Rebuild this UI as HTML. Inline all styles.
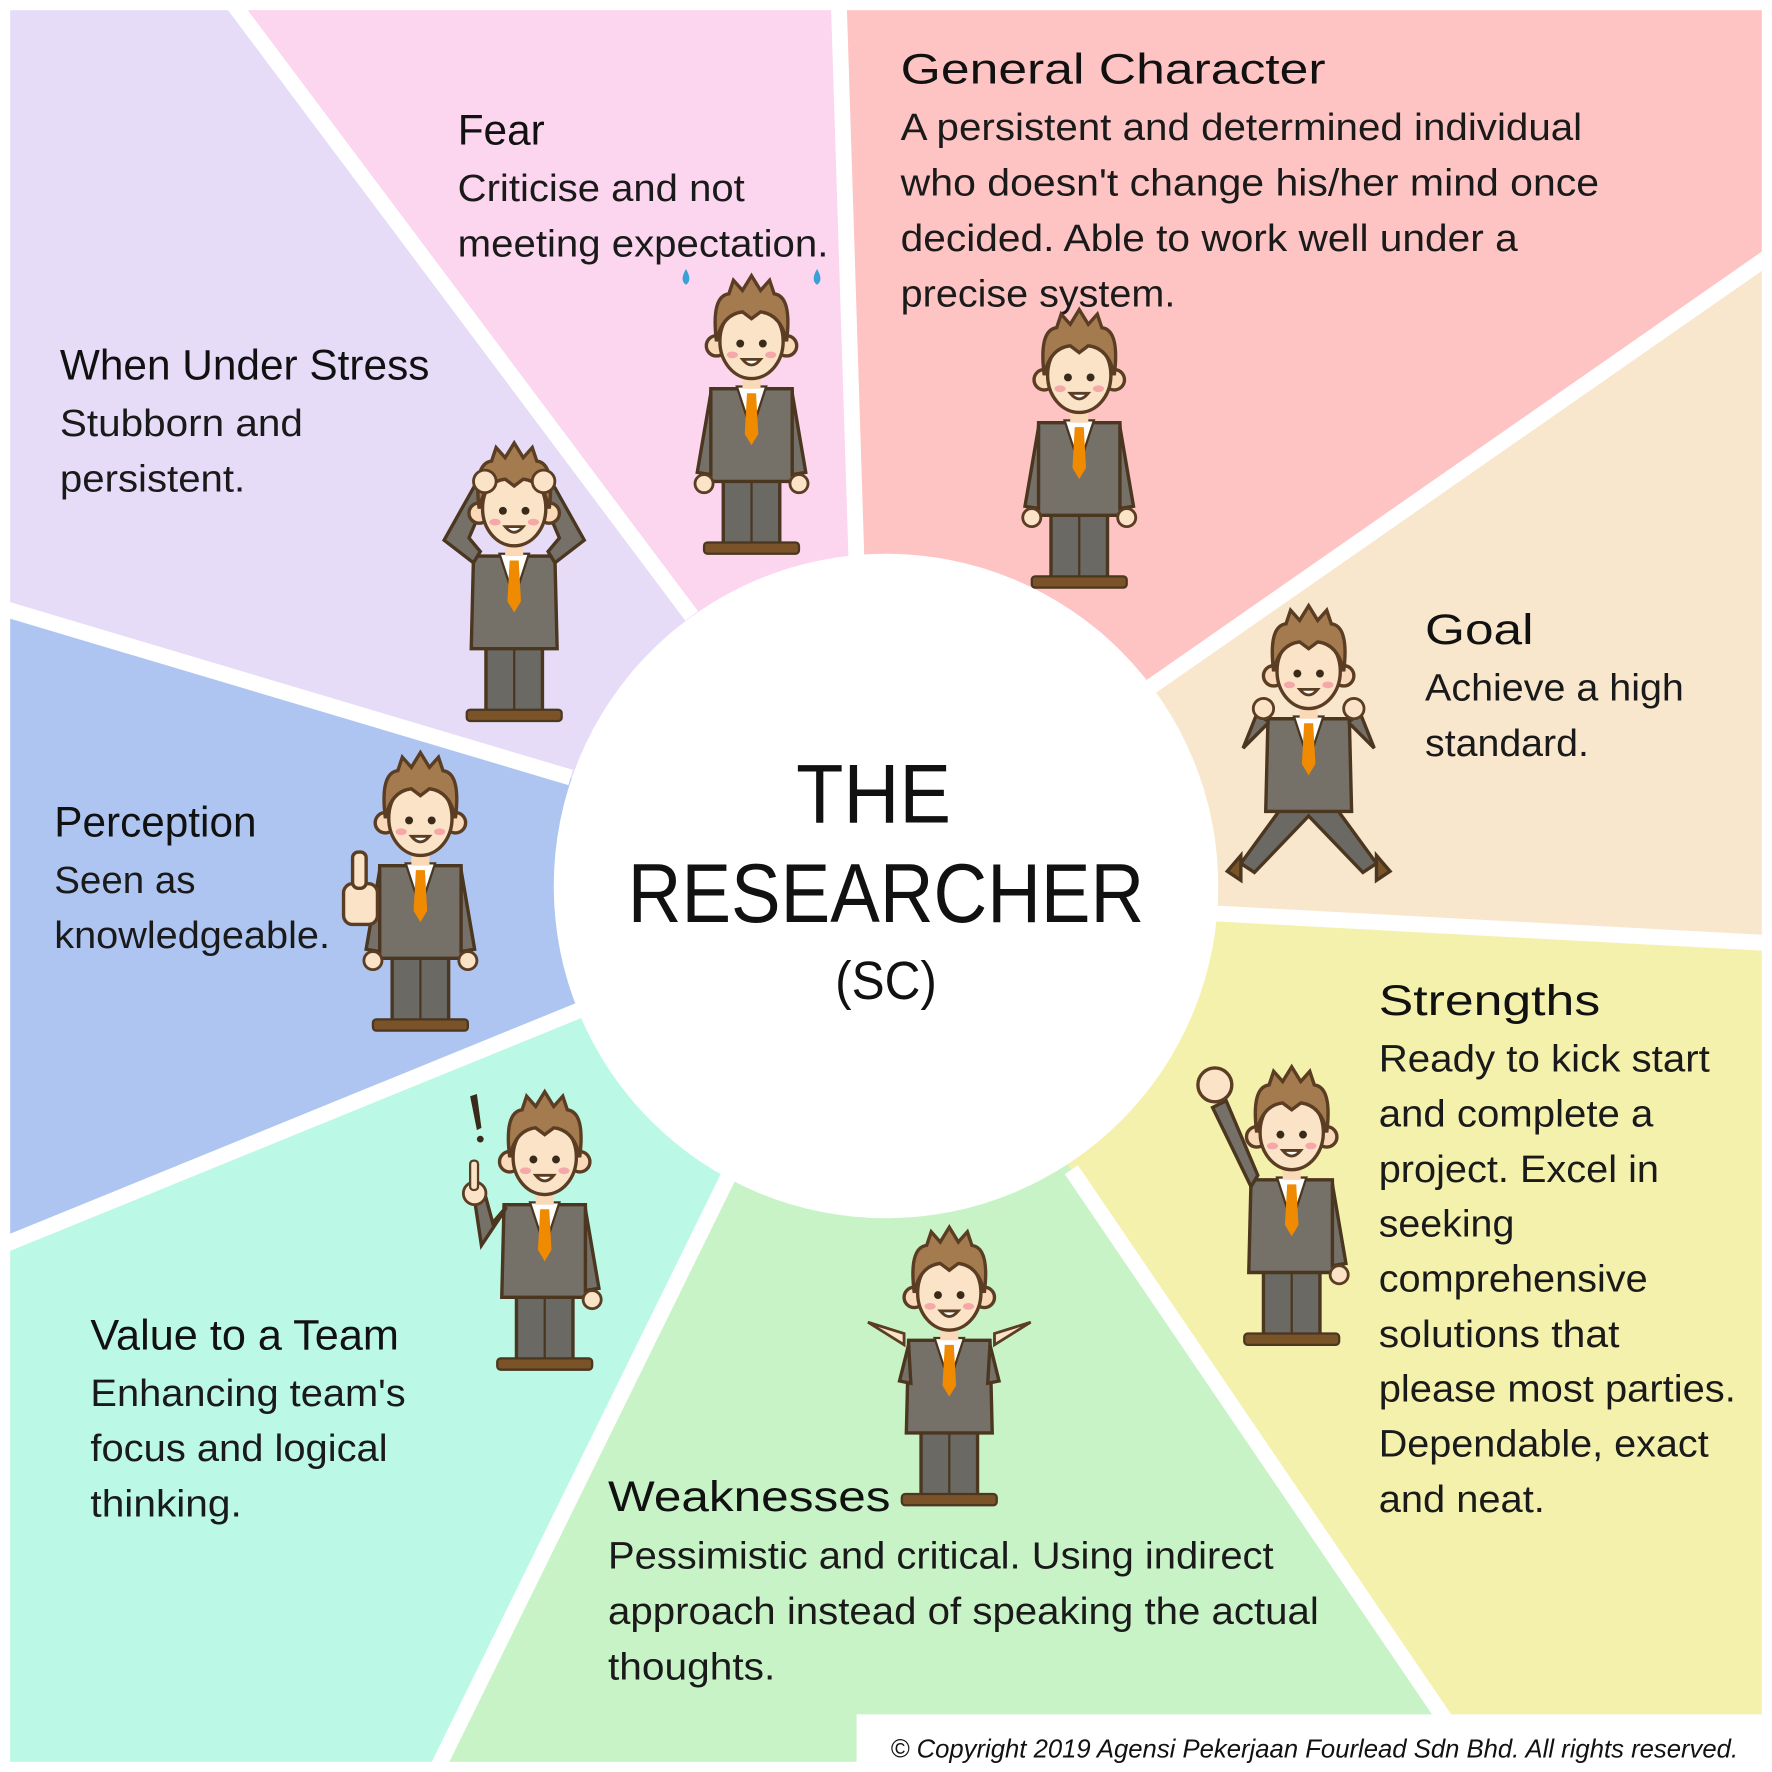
<!DOCTYPE html>
<html><head><meta charset="utf-8"><style>
html,body{margin:0;padding:0;background:#fff}
svg{display:block}
text{font-family:"Liberation Sans",sans-serif;fill:#111}
.h{font-size:38px}
.b{font-size:34px;fill:#1a1a1a}
</style></head><body>
<svg width="1772" height="1772" viewBox="0 0 1568 1568" xmlns="http://www.w3.org/2000/svg">
<defs>
<g id="head">
 <circle cx="-31" cy="6" r="9" fill="#f9d9b8" stroke="#5a3d22" stroke-width="3"/>
 <circle cx="31" cy="6" r="9" fill="#f9d9b8" stroke="#5a3d22" stroke-width="3"/>
 <rect x="-8" y="28" width="16" height="16" fill="#f9d9b8"/>
 <ellipse cx="0" cy="2" rx="28" ry="33" fill="#fbe3c8" stroke="#5a3d22" stroke-width="3"/>
 <path d="M-31,2 Q-36,-38 -20,-40 L-16,-52 L-8,-43 L0,-56 L8,-43 L16,-52 L20,-40 Q36,-38 31,2 Q26,-22 8,-24 L0,-18 L-8,-24 Q-26,-22 -31,2Z" fill="#a47b4f" stroke="#5a3d22" stroke-width="3"/>
 <circle cx="-10" cy="4" r="3.5" fill="#3a2a1a"/><circle cx="10" cy="4" r="3.5" fill="#3a2a1a"/>
 <ellipse cx="-17" cy="14" rx="5" ry="3" fill="#f6a8a8"/><ellipse cx="17" cy="14" rx="5" ry="3" fill="#f6a8a8"/>
 <path d="M-8,18 Q0,28 8,18Z" fill="#fff" stroke="#5a3d22" stroke-width="2.5"/>
</g>
<g id="torso">
 <rect x="-25" y="120" width="50" height="62" fill="#6b6964" stroke="#4b3620" stroke-width="3"/>
 <line x1="0" y1="125" x2="0" y2="182" stroke="#4b3620" stroke-width="2"/>
 <rect x="-42" y="180" width="84" height="10" rx="3" fill="#7a5328" stroke="#4b3620" stroke-width="2"/>
 <path d="M-36,44 L36,44 L38,126 L-38,126Z" fill="#757169" stroke="#4b3620" stroke-width="3"/>
 <path d="M-13,42 L13,42 L0,82Z" fill="#fff" stroke="#4b3620" stroke-width="2"/>
 <path d="M-4,48 L4,48 L6,84 L0,94 L-6,84Z" fill="#f08a00"/>
</g>
<g id="armsdown">
 <path d="M-36,48 L-48,118 L-36,120Z" fill="#757169" stroke="#4b3620" stroke-width="3"/>
 <path d="M36,48 L48,118 L36,120Z" fill="#757169" stroke="#4b3620" stroke-width="3"/>
 <circle cx="-42" cy="128" r="8" fill="#fbe3c8" stroke="#5a3d22" stroke-width="2.5"/>
 <circle cx="42" cy="128" r="8" fill="#fbe3c8" stroke="#5a3d22" stroke-width="2.5"/>
</g>
</defs>

<rect width="1568" height="1568" fill="#fff"/>
<!-- wedges -->
<polygon points="612,545 205,0 742,0 758,500 784,784" fill="#fcd5ee"/>
<polygon points="758,500 742,0 1568,0 1568,225 1015,610 784,784" fill="#fdc4c3"/>
<polygon points="1015,610 1568,225 1568,835 1070,808 784,784" fill="#f8e7cd"/>
<polygon points="1070,808 1568,835 1568,1568 1311,1568 948,1035 784,784" fill="#f4f1ad"/>
<polygon points="948,1035 1311,1568 385,1568 645,1040 784,784" fill="#c8f3c7"/>
<polygon points="645,1040 385,1568 0,1568 0,1103 515,893 784,784" fill="#bbf9e6"/>
<polygon points="515,893 0,1103 0,538 505,688 784,784" fill="#aec5f1"/>
<polygon points="505,688 0,538 0,0 205,0 612,545 784,784" fill="#e6dcf8"/>
<!-- separators -->
<g stroke="#fff" stroke-width="14">
<line x1="742" y1="-5" x2="758" y2="500"/>
<line x1="1575" y1="220" x2="1015" y2="610"/>
<line x1="1575" y1="835" x2="1070" y2="808"/>
<line x1="1315" y1="1575" x2="948" y2="1035"/>
<line x1="382" y1="1575" x2="645" y2="1040"/>
<line x1="-5" y1="1105" x2="515" y2="893"/>
<line x1="-5" y1="536" x2="505" y2="688"/>
<line x1="200" y1="-5" x2="612" y2="545"/>
</g>
<rect x="4" y="4" width="1560" height="1560" fill="none" stroke="#fff" stroke-width="10"/>
<rect x="758" y="1517" width="810" height="51" fill="#fff"/>
<circle cx="784" cy="784" r="294" fill="#fff"/>

<!-- center text -->
<text x="773" y="728" text-anchor="middle" font-size="74" textLength="137" lengthAdjust="spacingAndGlyphs">THE</text>
<text x="784" y="816" text-anchor="middle" font-size="74" textLength="457" lengthAdjust="spacingAndGlyphs">RESEARCHER</text>
<text x="784" y="884" text-anchor="middle" font-size="48" textLength="90" lengthAdjust="spacingAndGlyphs">(SC)</text>

<!-- Fear -->
<text class="h" x="405" y="128" textLength="77" lengthAdjust="spacingAndGlyphs">Fear</text>
<text class="b" x="405" y="178" textLength="254" lengthAdjust="spacingAndGlyphs">Criticise and not</text>
<text class="b" x="405" y="227" textLength="328" lengthAdjust="spacingAndGlyphs">meeting expectation.</text>
<!-- General -->
<text class="h" x="797" y="74" textLength="376" lengthAdjust="spacingAndGlyphs">General Character</text>
<text class="b" x="797" y="124" textLength="603" lengthAdjust="spacingAndGlyphs">A persistent and determined individual</text>
<text class="b" x="797" y="173" textLength="618" lengthAdjust="spacingAndGlyphs">who doesn't change his/her mind once</text>
<text class="b" x="797" y="222" textLength="546" lengthAdjust="spacingAndGlyphs">decided. Able to work well under a</text>
<text class="b" x="797" y="271" textLength="243" lengthAdjust="spacingAndGlyphs">precise system.</text>
<!-- Stress -->
<text class="h" x="53" y="336" textLength="327" lengthAdjust="spacingAndGlyphs">When Under Stress</text>
<text class="b" x="53" y="386" textLength="215" lengthAdjust="spacingAndGlyphs">Stubborn and</text>
<text class="b" x="53" y="435" textLength="164" lengthAdjust="spacingAndGlyphs">persistent.</text>
<!-- Goal -->
<text class="h" x="1261" y="570" textLength="96" lengthAdjust="spacingAndGlyphs">Goal</text>
<text class="b" x="1261" y="620" textLength="229" lengthAdjust="spacingAndGlyphs">Achieve a high</text>
<text class="b" x="1261" y="669" textLength="145" lengthAdjust="spacingAndGlyphs">standard.</text>
<!-- Perception -->
<text class="h" x="48" y="740" textLength="179" lengthAdjust="spacingAndGlyphs">Perception</text>
<text class="b" x="48" y="790" textLength="125" lengthAdjust="spacingAndGlyphs">Seen as</text>
<text class="b" x="48" y="839" textLength="244" lengthAdjust="spacingAndGlyphs">knowledgeable.</text>
<!-- Strengths -->
<text class="h" x="1220" y="898" textLength="196" lengthAdjust="spacingAndGlyphs">Strengths</text>
<text class="b" x="1220" y="948" textLength="293" lengthAdjust="spacingAndGlyphs">Ready to kick start</text>
<text class="b" x="1220" y="997" textLength="243" lengthAdjust="spacingAndGlyphs">and complete a</text>
<text class="b" x="1220" y="1046" textLength="248" lengthAdjust="spacingAndGlyphs">project. Excel in</text>
<text class="b" x="1220" y="1094" textLength="120" lengthAdjust="spacingAndGlyphs">seeking</text>
<text class="b" x="1220" y="1143" textLength="238" lengthAdjust="spacingAndGlyphs">comprehensive</text>
<text class="b" x="1220" y="1192" textLength="213" lengthAdjust="spacingAndGlyphs">solutions that</text>
<text class="b" x="1220" y="1240" textLength="316" lengthAdjust="spacingAndGlyphs">please most parties.</text>
<text class="b" x="1220" y="1289" textLength="292" lengthAdjust="spacingAndGlyphs">Dependable, exact</text>
<text class="b" x="1220" y="1338" textLength="147" lengthAdjust="spacingAndGlyphs">and neat.</text>
<!-- Value -->
<text class="h" x="80" y="1194" textLength="273" lengthAdjust="spacingAndGlyphs">Value to a Team</text>
<text class="b" x="80" y="1244" textLength="279" lengthAdjust="spacingAndGlyphs">Enhancing team's</text>
<text class="b" x="80" y="1293" textLength="263" lengthAdjust="spacingAndGlyphs">focus and logical</text>
<text class="b" x="80" y="1342" textLength="134" lengthAdjust="spacingAndGlyphs">thinking.</text>
<!-- Weakness -->
<text class="h" x="538" y="1337" textLength="250" lengthAdjust="spacingAndGlyphs">Weaknesses</text>
<text class="b" x="538" y="1388" textLength="589" lengthAdjust="spacingAndGlyphs">Pessimistic and critical. Using indirect</text>
<text class="b" x="538" y="1437" textLength="629" lengthAdjust="spacingAndGlyphs">approach instead of speaking the actual</text>
<text class="b" x="538" y="1486" textLength="148" lengthAdjust="spacingAndGlyphs">thoughts.</text>
<!-- copyright -->
<text x="1538" y="1555" text-anchor="end" font-size="23" font-style="italic" textLength="750" lengthAdjust="spacingAndGlyphs">© Copyright 2019 Agensi Pekerjaan Fourlead Sdn Bhd. All rights reserved.</text>

<!-- Figures -->
<!-- Fear -->
<g transform="translate(665,300)">
 <use href="#torso"/><use href="#armsdown"/><use href="#head"/>
 <path d="M-58,-62 q-6,10 0,14 q6,-4 0,-14Z M58,-62 q6,10 0,14 q-6,-4 0,-14Z" fill="#3aa0d8"/>
</g>
<!-- General -->
<g transform="translate(955,330)"><use href="#torso"/><use href="#armsdown"/><use href="#head"/></g>
<!-- Stress -->
<g transform="translate(455,448)">
 <use href="#torso"/>
 <path d="M-36,50 L-62,30 L-34,-20 L-22,-14 L-40,28 L-30,40Z" fill="#757169" stroke="#4b3620" stroke-width="3"/>
 <path d="M36,50 L62,30 L34,-20 L22,-14 L40,28 L30,40Z" fill="#757169" stroke="#4b3620" stroke-width="3"/>
 <use href="#head"/>
 <circle cx="-26" cy="-22" r="10" fill="#fbe3c8" stroke="#5a3d22" stroke-width="2.5"/>
 <circle cx="26" cy="-22" r="10" fill="#fbe3c8" stroke="#5a3d22" stroke-width="2.5"/>
</g>
<!-- Goal -->
<g transform="translate(1158,592)">
 <path d="M-22,120 L-60,172 L-48,180 L0,130 L48,180 L60,172 L22,120Z" fill="#6b6964" stroke="#4b3620" stroke-width="3"/>
 <path d="M-36,44 L36,44 L38,126 L-38,126Z" fill="#757169" stroke="#4b3620" stroke-width="3"/>
 <path d="M-13,42 L13,42 L0,82Z" fill="#fff" stroke="#4b3620" stroke-width="2"/>
 <path d="M-4,48 L4,48 L6,84 L0,94 L-6,84Z" fill="#f08a00"/>
 <path d="M-36,48 L-58,70 L-46,40 L-36,46Z" fill="#757169" stroke="#4b3620" stroke-width="3"/>
 <path d="M36,48 L58,70 L46,40 L36,46Z" fill="#757169" stroke="#4b3620" stroke-width="3"/>
 <path d="M-60,165 l-12,14 l12,8Z M60,165 l12,14 l-12,8Z" fill="#7a5328" stroke="#4b3620" stroke-width="3"/>
 <use href="#head"/>
 <circle cx="-40" cy="35" r="9" fill="#fbe3c8" stroke="#5a3d22" stroke-width="2.5"/>
 <circle cx="40" cy="35" r="9" fill="#fbe3c8" stroke="#5a3d22" stroke-width="2.5"/>
</g>
<!-- Perception -->
<g transform="translate(372,722)">
 <use href="#torso"/><use href="#armsdown"/><use href="#head"/>
 <rect x="-68" y="60" width="30" height="36" rx="8" fill="#fbe3c8" stroke="#5a3d22" stroke-width="3"/>
 <rect x="-60" y="32" width="12" height="32" rx="5" fill="#fbe3c8" stroke="#5a3d22" stroke-width="3"/>
</g>
<!-- Strengths -->
<g transform="translate(1143,1000)">
 <use href="#torso"/>
 <path d="M-36,50 L-70,-20 L-58,-26 L-30,40Z" fill="#757169" stroke="#4b3620" stroke-width="3"/>
 <path d="M36,48 L48,118 L36,120Z" fill="#757169" stroke="#4b3620" stroke-width="3"/>
 <circle cx="42" cy="128" r="8" fill="#fbe3c8" stroke="#5a3d22" stroke-width="2.5"/>
 <circle cx="-68" cy="-40" r="15" fill="#fbe3c8" stroke="#5a3d22" stroke-width="3"/>
 <use href="#head"/>
</g>
<!-- Value -->
<g transform="translate(482,1022)">
 <use href="#torso"/>
 <path d="M-36,50 L-56,80 L-62,40 L-52,38 L-46,60 L-34,46Z" fill="#757169" stroke="#4b3620" stroke-width="3"/>
 <path d="M36,48 L48,118 L36,120Z" fill="#757169" stroke="#4b3620" stroke-width="3"/>
 <circle cx="42" cy="128" r="8" fill="#fbe3c8" stroke="#5a3d22" stroke-width="2.5"/>
 <circle cx="-62" cy="34" r="10" fill="#fbe3c8" stroke="#5a3d22" stroke-width="2.5"/>
 <rect x="-66" y="5" width="7" height="26" rx="3" fill="#fbe3c8" stroke="#5a3d22" stroke-width="2"/>
 <use href="#head"/>
 <path d="M-66,-52 l6,30 l4,-2 l-4,-30Z" fill="#3a2a1a"/><circle cx="-57" cy="-14" r="3" fill="#3a2a1a"/>
</g>
<!-- Weakness -->
<g transform="translate(840,1142)">
 <use href="#torso"/>
 <path d="M-36,48 L-44,80 L-34,82Z" fill="#757169" stroke="#4b3620" stroke-width="3"/>
 <path d="M36,48 L44,80 L34,82Z" fill="#757169" stroke="#4b3620" stroke-width="3"/>
 <path d="M-40,48 L-72,28 L-40,38Z M40,48 L72,28 L40,38Z" fill="#fbe3c8" stroke="#5a3d22" stroke-width="2.5"/>
 <use href="#head"/>
</g>
</svg>
</body></html>
